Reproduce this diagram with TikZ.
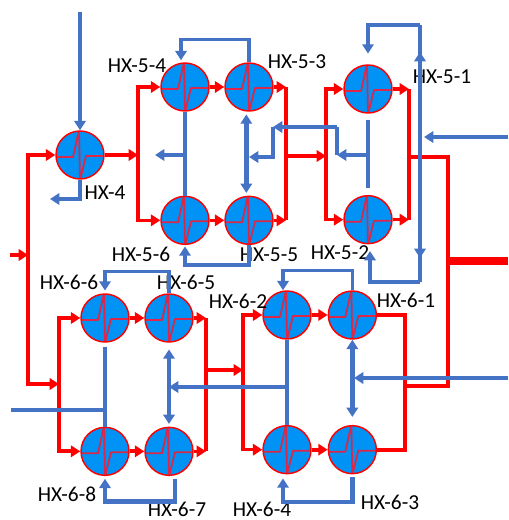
\documentclass[tikz,border=0pt]{standalone}
\usepackage{fontspec}
\setmainfont{Carlito}
\usetikzlibrary{arrows.meta}
\definecolor{hotred}{HTML}{FF0000}
\definecolor{coldblue}{HTML}{4472C4}
\definecolor{hxfill}{HTML}{0092F5}
\definecolor{hxmark}{HTML}{DC2848}
\tikzset{
    >={Triangle[length=7pt,width=8.5pt]},
    hot/.style={draw=hotred, line width=2.8pt},
    hotfine/.style={draw=hotred, line width=2.4pt},
    hotbus/.style={draw=hotred, line width=6pt},
    cold/.style={draw=coldblue, line width=2.4pt},
    coldbar/.style={draw=coldblue, line width=3.4pt},
    hxnode/.style={circle, draw=hotred, fill=hxfill, line width=1.1pt, inner sep=0pt, minimum size=36pt,
        path picture={\draw[hxmark, line width=1.3pt, line join=round, shift={(path picture bounding box.center)}]
            (-25,2) -- (-7,2) -- (-1,-25) -- (0,25) -- (6,1) -- (25,1);}},
    hxlabel/.style={inner sep=0pt, font=\fontsize{16}{18}\selectfont}
}
\begin{document}
\begin{tikzpicture}[x=0.75pt, y=-0.75pt, node distance=48pt]
    \useasboundingbox (0,0) rectangle (508,520);
    % exchangers
    \node[hxnode] (H4) at (80,155) {};
    \node[hxnode] (H54) at (185,87) {};
    \node[hxnode] (H53) [right of=H54] {};
    \node[hxnode] (H56) [below of=H54, node distance=100pt] {};
    \node[hxnode] (H55) [right of=H56] {};
    \node[hxnode] (H51) at (368,89) {};
    \node[hxnode] (H52) [below of=H51, node distance=98pt] {};
    \node[hxnode] (H66) at (105,318) {};
    \node[hxnode] (H65) [right of=H66] {};
    \node[hxnode] (H68) [below of=H66, node distance=100pt] {};
    \node[hxnode] (H67) [right of=H68] {};
    \node[hxnode] (H62) at (287,315) {};
    \node[hxnode] (H61) [right of=H62, node distance=49pt] {};
    \node[hxnode] (H64) [below of=H62, node distance=101pt] {};
    \node[hxnode] (H63) [right of=H64, node distance=49pt] {};
    % labels
    \node[hxlabel] (L4) at (105,193) {HX-4};
    \node[hxlabel] (L54) at (137,66) {HX-5-4};
    \node[hxlabel] (L53) at (297,62) {HX-5-3};
    \node[hxlabel] (L51) at (442,77) {HX-5-1};
    \node[hxlabel] (L56) at (141,254) {HX-5-6};
    \node[hxlabel] (L55) at (269,255) {HX-5-5};
    \node[hxlabel] (L52) at (340,253) {HX-5-2};
    \node[hxlabel] (L66) at (69,282) {HX-6-6};
    \node[hxlabel] (L65) at (186,282) {HX-6-5};
    \node[hxlabel] (L62) at (238,301) {HX-6-2};
    \node[hxlabel] (L61) at (406,300) {HX-6-1};
    \node[hxlabel] (L68) at (67,494) {HX-6-8};
    \node[hxlabel] (L67) at (177,509) {HX-6-7};
    \node[hxlabel] (L64) at (262,509) {HX-6-4};
    \node[hxlabel] (L63) at (390,502) {HX-6-3};
    % junctions and stream ends
    \coordinate (Hin) at (10,255);
    \coordinate (Hleft) at (28,255);
    \coordinate (Hout) at (508,261);
    \coordinate (B4) at (138,155);
    \coordinate (B5a) at (286,156);
    \coordinate (B5b) at (326,156);
    \coordinate (B5c) at (409,157);
    \coordinate (B5d) at (448,157);
    \coordinate (B5e) at (448,261);
    \coordinate (B5f) at (448,386);
    \coordinate (B6e) at (405,386);
    \coordinate (B6a) at (59,384);
    \coordinate (B6b) at (206,370);
    \coordinate (B6c) at (243,370);
    % hot side, first stage
    \draw[hot, ->] (Hin) to (Hleft);
    \draw[hot, ->] (Hleft) |- (H4);
    \draw[hot, ->] (Hleft) |- (B6a);
    \draw[hot, ->] (H4) to (B4);
    \draw[hot, ->] (B4) |- (H54);
    \draw[hotfine, ->] (B4) |- (H56);
    \draw[hot, ->] (H54) to (H53);
    \draw[hotfine, ->] (H56) to (H55);
    \draw[hotfine, ->] (H53) -- (H53 -| B5a);
    \draw[hotfine, ->] (H55) -- (H55 -| B5a);
    \draw[hotfine] (H53 -| B5a) -- (H55 -| B5a);
    \draw[hot, ->] (B5a) to (B5b);
    \draw[hot, ->] (B5b) |- (H51);
    \draw[hotfine, ->] (B5b) |- (H52);
    \draw[hotfine, ->] (H51) -- (H51 -| B5c);
    \draw[hotfine, ->] (H52) -- (H52 -| B5c);
    \draw[hot] (H51 -| B5c) -- (H52 -| B5c);
    \draw[hot] (B5c) -- (B5d) -- (B5f) -- (B6e);
    \draw[hotbus] (B5e) to (Hout);
    % hot side, second stage
    \draw[hot, ->] (B6a) |- (H66);
    \draw[hot, ->] (B6a) |- (H68);
    \draw[hot, ->] (H66) to (H65);
    \draw[hot, ->] (H68) to (H67);
    \draw[hot, ->] (H65) -- (H65 -| B6b);
    \draw[hotfine, ->] (H67) -- (H67 -| B6b);
    \draw[hotfine] (H65 -| B6b) -- (H67 -| B6b);
    \draw[hot, ->] (B6b) to (B6c);
    \draw[hotfine, ->] (B6c) |- (H62);
    \draw[hotfine, ->] (B6c) |- (H64);
    \draw[hot, ->] (H62) to (H61);
    \draw[hot, ->] (H64) to (H63);
    \draw[hotfine] (H61) -| (B6e);
    \draw[hot] (H63) -| (B6e);
    % cold side
    \coordinate (C4top) at (80,12);
    \coordinate (C4end) at (50,199);
    \coordinate (C54end) at (155,155);
    \coordinate (C54mid) at (185,155);
    \coordinate (C51mid) at (368,155);
    \coordinate (Cup) at (337,127);
    \coordinate (Cturn) at (273,127);
    \coordinate (C55mid) at (249,157);
    \coordinate (Cin) at (508,137);
    \coordinate (Csplit) at (424,137);
    \coordinate (Ctop) at (420,25);
    \coordinate (Ctip) at (420,52);
    \coordinate (Cbot) at (420,258);
    \coordinate (Cfoot) at (420,282);
    \coordinate (C6in) at (11,410);
    \coordinate (C66mid) at (105,410);
    \coordinate (C65mid) at (169,387);
    \coordinate (C62mid) at (287,387);
    \coordinate (C61in) at (508,378);
    \coordinate (C61mid) at (354,378);
    \draw[cold, ->] (C4top) to (H4);
    \draw[cold, ->] (H4) |- (C4end);
    \draw[cold, ->] (H53.north) -- ++(0,-23) -| ([xshift=-3pt,yshift=1.5pt]H54.north);
    \draw[cold] (H54) to (H56);
    \draw[cold, ->] (C54mid) to (C54end);
    \draw[coldbar, <->, shorten >=2pt, shorten <=2pt] ([xshift=-2pt]H53.south) -- ([xshift=-2pt]H55.north);
    \draw[coldbar, shorten >=5pt, shorten <=5pt] (H51) to (H52);
    \draw[cold, ->] (C51mid) to (C51mid -| Cup);
    \draw[cold] (C51mid -| Cup) -- (Cup);
    \draw[cold, ->] (Cup) -- (Cturn);
    \draw[cold, ->] (Cturn) |- (C55mid);
    \draw[cold, ->] (Cin) to (Csplit);
    \draw[cold, ->] (Ctop) -| ([yshift=8pt]H51.north);
    \draw[cold, ->] (Cfoot) to (Ctip);
    \draw[cold] (Ctip) to (Ctop);
    \draw[cold, ->] (Ctip) to (Cbot);
    \draw[cold, ->] (Cfoot) -| ([xshift=1.5pt,yshift=-5pt]H52.south);
    \draw[cold] (Cbot) to (Cfoot);
    \draw[cold, ->] (H55.south) -- ++(0,20) -| ([yshift=-1pt]H56.south);
    \draw[cold, ->] (H65.north) -- ++(0,-22) -| ([yshift=2pt]H66.north);
    \draw[coldbar, shorten <=3pt] (H66) -- (C66mid);
    \draw[cold] (H68) to (C66mid);
    \draw[cold] (C66mid) to (C6in);
    \draw[coldbar, <->] ([yshift=-5pt]H65.south) -- ([yshift=2pt]H67.north);
    \draw[cold, ->] (C62mid) to (C65mid);
    \draw[cold] (H62) to (H64);
    \draw[coldbar, ->] ([xshift=4.5pt,yshift=-2pt]H67.south) -- ++(0,23) -| ([yshift=-2pt]H68.south);
    \draw[cold, ->] (H61.north) -- ++(0,-20) -| ([xshift=-3pt]H62.north);
    \draw[coldbar, <->] (H61.south) -- ([yshift=6pt]H63.north);
    \draw[cold, ->] (C61in) to (C61mid);
    \draw[coldbar, ->] ([yshift=-2pt]H63.south) -- ++(0,25) -| ([xshift=-3pt,yshift=-3pt]H64.south);
\end{tikzpicture}
\end{document}
